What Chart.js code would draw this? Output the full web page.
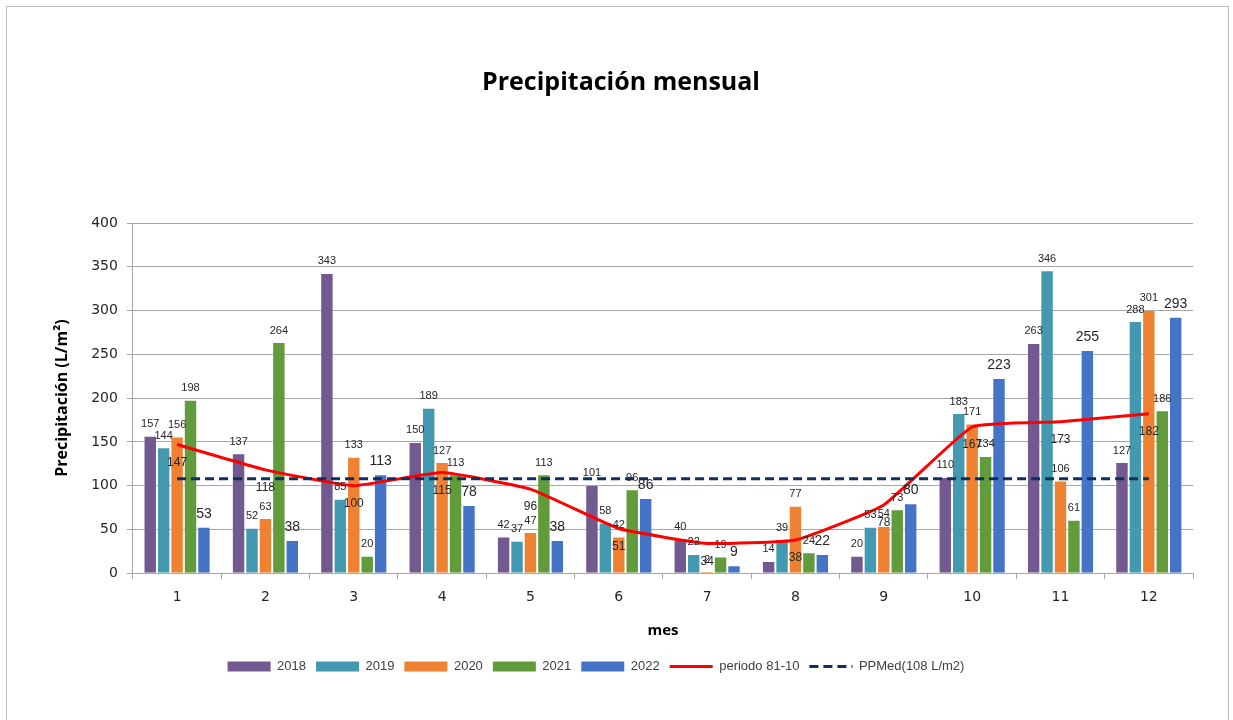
<!DOCTYPE html>
<html>
<head>
<meta charset="utf-8">
<script src="https://cdn.jsdelivr.net/npm/chart.js@4"></script>
<style>
body{margin:0;background:#fff}
#wrap{position:relative;width:1233px;height:720px}
#frame{position:absolute;left:6px;top:6px;width:1221px;height:730px;border:1px solid #bdbdbd;pointer-events:none}
</style>
</head>
<body>
<div id="wrap">
<canvas id="chart" width="1233" height="720"></canvas>
<div id="frame"></div>
</div>
<script>

const meses = ["1","2","3","4","5","6","7","8","9","10","11","12"]

const y2018 = [157,137,343,150,42,101,40,14,20,110,263,127]
const y2019 = [144,52,85,189,37,58,22,39,53,183,346,288]
const y2020 = [156,63,133,127,47,42,2,77,54,171,106,301]
const y2021 = [198,264,20,113,113,96,19,24,73,134,61,186]
const y2022 = [53,38,113,78,38,86,9,22,80,223,255,293]
const periodo = [147,118,100,115,96,51,34,38,78,167,173,182]
const ppmed = [108,108,108,108,108,108,108,108,108,108,108,108]

const yTicks = [0,50,100,150,200,250,300,350,400]

// etiquetas de valor encima de barras y debajo de la linea roja
const etiquetas = {
id:"etiquetas",
afterLayout(chart){
// la leyenda del original esta algo desplazada a la izquierda
chart.legend.left -= 25
chart.legend.right -= 25
},
afterDatasetsDraw(chart){
const ctx = chart.ctx
ctx.save()
ctx.fillStyle = "#262626"
ctx.textAlign = "center"
chart.data.datasets.forEach((ds,i)=>{
if(ds.label.startsWith("PPMed")) return
const meta = chart.getDatasetMeta(i)
meta.data.forEach((el,j)=>{
const v = ds.data[j]
if(ds.type==="line"){
ctx.font = "12px 'Liberation Sans'"
ctx.textBaseline = "top"
ctx.fillText(v, el.x, el.y+12)
}else{
ctx.font = ds.label==="2022" ? "14px 'Liberation Sans'" : "11px 'Liberation Sans'"
ctx.textBaseline = "bottom"
ctx.fillText(v, el.x, el.y-6)
}
})
})
ctx.restore()
}
}

const barra = (label,data,color)=>({
label:label,
data:data,
backgroundColor:color,
borderColor:"rgba(255,255,255,0.35)",
borderWidth:1,
order:2
})

new Chart(document.getElementById("chart"),{
type:"bar",
data:{
labels:meses,
datasets:[
barra("2018",y2018,"#72598f"),
barra("2019",y2019,"#4299b0"),
barra("2020",y2020,"#ee8232"),
barra("2021",y2021,"#629b3c"),
barra("2022",y2022,"#4573c5"),
{
type:"line",
label:"periodo 81-10",
data:periodo,
borderColor:"#ff0000",
backgroundColor:"#ff0000",
borderWidth:3,
pointRadius:0,
tension:0.12,
order:1
},
{
type:"line",
label:"PPMed(108 L/m2)",
data:ppmed,
borderColor:"#0f2f5f",
backgroundColor:"#0f2f5f",
borderWidth:3,
borderDash:[9,5],
pointRadius:0,
order:0
}
]
},
options:{
responsive:false,
animation:false,
layout:{padding:{left:49,right:40,top:0,bottom:37}},
datasets:{bar:{categoryPercentage:0.76,barPercentage:1}},
plugins:{
title:{
display:true,
text:"Precipitación mensual",
color:"#000",
font:{family:"'Open Sans'",size:25,weight:"bold"},
padding:{top:68,bottom:125}
},
legend:{
position:"bottom",
labels:{
usePointStyle:true,
pointStyleWidth:43,
boxHeight:10,
color:"#404040",
font:{family:"'Liberation Sans'",size:13},
padding:10,
sort:(a,b)=>a.datasetIndex-b.datasetIndex,
generateLabels(chart){
const items = Chart.defaults.plugins.legend.labels.generateLabels(chart)
items.forEach(it=>{
const ds = chart.data.datasets[it.datasetIndex]
if(ds.type==="line"){
it.pointStyle = "line"
it.lineWidth = 3
it.strokeStyle = ds.borderColor
it.lineDash = ds.borderDash || []
}else{
it.pointStyle = "rect"
it.lineWidth = 0
}
})
return items
}
}
},
tooltip:{enabled:false}
},
scales:{
x:{
grid:{drawOnChartArea:false,tickLength:6,color:"#a6a6a6"},
border:{color:"#a6a6a6"},
ticks:{color:"#262626",font:{family:"'DejaVu Sans'",size:14},padding:10},
title:{display:true,text:"mes",color:"#000",font:{family:"'Open Sans'",size:15,weight:"bold"},padding:{top:6,bottom:10}}
},
y:{
min:0,max:400,
afterBuildTicks(axis){axis.ticks = yTicks.map(v=>({value:v}))},
grid:{color:"#a6a6a6",tickLength:6},
border:{color:"#a6a6a6"},
ticks:{color:"#262626",font:{family:"'DejaVu Sans'",size:14},padding:9},
title:{display:true,text:"Precipitación (L/m²)",color:"#000",font:{family:"'Open Sans'",size:16,weight:"bold"},padding:{bottom:10}}
}
}
},
plugins:[etiquetas]
})

</script>
</body>
</html>
